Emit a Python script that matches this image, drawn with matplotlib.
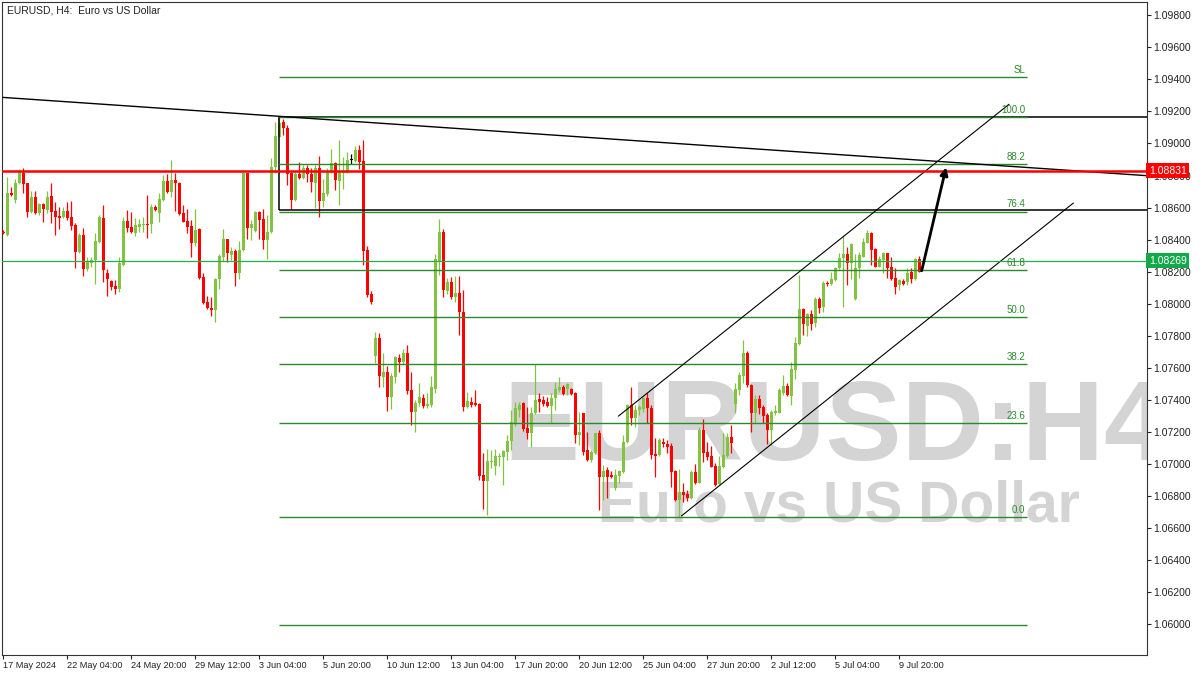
import matplotlib.pyplot as plt
import matplotlib.transforms as mtransforms
from matplotlib.patches import Rectangle
from matplotlib.ticker import FormatStrFormatter
import numpy as np

# %% data: EURUSD H4 candles (bar index 0 = 17 May 2024 12:00)
opens = [
    1.08449, 1.08429, 1.08693, 1.08647, 1.08751, 1.08818, 1.08751, 1.08572, 1.08668, 1.08564,
    1.08622, 1.08585, 1.08672, 1.08580, 1.08547, 1.08539, 1.08580, 1.08543, 1.08491, 1.08320,
    1.08429, 1.08214, 1.08252, 1.08273, 1.08387, 1.08533, 1.08189, 1.08142, 1.08112, 1.08094,
    1.08241, 1.08518, 1.08481, 1.08439, 1.08481, 1.08489, 1.08497, 1.08497, 1.08605, 1.08564,
    1.08647, 1.08766, 1.08695, 1.08772, 1.08755, 1.08564, 1.08516, 1.08485, 1.08377, 1.08464,
    1.08169, 1.08013, 1.07975, 1.07961, 1.08152, 1.08293, 1.08402, 1.08304, 1.08331, 1.08189,
    1.08335, 1.08813, 1.08470, 1.08456, 1.08572, 1.08526, 1.08397, 1.08445, 1.08855, 1.09042,
    1.09136, 1.09094, 1.08814, 1.08647, 1.08809, 1.08782, 1.08845, 1.08809, 1.08755, 1.08845,
    1.08643, 1.08684, 1.08817, 1.08876, 1.08767, 1.08814, 1.08817, 1.08897, 1.08892, 1.08959,
    1.08890, 1.08335, 1.08060, 1.07674, 1.07788, 1.07544, 1.07576, 1.07420, 1.07544, 1.07663,
    1.07638, 1.07694, 1.07461, 1.07326, 1.07378, 1.07413, 1.07362, 1.07368, 1.07470, 1.08268,
    1.08449, 1.08081, 1.08137, 1.08044, 1.08069, 1.07950, 1.07357, 1.07388, 1.07378, 1.07374,
    1.06931, 1.06895, 1.07012, 1.06987, 1.07045, 1.07045, 1.07076, 1.07145, 1.07254, 1.07337,
    1.07378, 1.07222, 1.07195, 1.07316, 1.07403, 1.07399, 1.07388, 1.07362, 1.07410, 1.07461,
    1.07478, 1.07466, 1.07468, 1.07441, 1.07181, 1.07316, 1.07087, 1.07025, 1.07070, 1.07191,
    1.06917, 1.06962, 1.06931, 1.06848, 1.06925, 1.06952, 1.07139, 1.07368, 1.07285, 1.07337,
    1.07341, 1.07410, 1.07347, 1.07062, 1.07056, 1.07139, 1.07124, 1.07112, 1.06958, 1.06775,
    1.06827, 1.06811, 1.06786, 1.06952, 1.06883, 1.07212, 1.07076, 1.07050, 1.06987, 1.06875,
    1.06983, 1.07050, 1.07170, 1.07374, 1.07461, 1.07549, 1.07694, 1.07493, 1.07320, 1.07403,
    1.07357, 1.07305, 1.07212, 1.07320, 1.07320, 1.07441, 1.07486, 1.07426, 1.07586, 1.07748,
    1.07965, 1.07861, 1.07936, 1.07878, 1.08027, 1.07977, 1.08131, 1.08123, 1.08148, 1.08221,
    1.08283, 1.08310, 1.08256, 1.08027, 1.08221, 1.08293, 1.08381, 1.08443, 1.08339, 1.08231,
    1.08273, 1.08314, 1.08231, 1.08158, 1.08117, 1.08143, 1.08137, 1.08200, 1.08152, 1.08277,
]
highs = [
    1.08460, 1.08788, 1.08730, 1.08776, 1.08838, 1.08845, 1.08755, 1.08705, 1.08705, 1.08630,
    1.08626, 1.08705, 1.08755, 1.08637, 1.08605, 1.08605, 1.08637, 1.08641, 1.08501, 1.08439,
    1.08470, 1.08293, 1.08293, 1.08439, 1.08553, 1.08616, 1.08214, 1.08148, 1.08148, 1.08293,
    1.08543, 1.08585, 1.08574, 1.08533, 1.08526, 1.08543, 1.08678, 1.08622, 1.08616, 1.08689,
    1.08803, 1.08809, 1.08897, 1.08813, 1.08761, 1.08616, 1.08589, 1.08522, 1.08589, 1.08470,
    1.08189, 1.08048, 1.08040, 1.08158, 1.08310, 1.08464, 1.08406, 1.08352, 1.08339, 1.08393,
    1.08824, 1.08818, 1.08522, 1.08580, 1.08580, 1.08589, 1.08553, 1.08907, 1.09136, 1.09165,
    1.09150, 1.09115, 1.08824, 1.08830, 1.08882, 1.08865, 1.08865, 1.08845, 1.08865, 1.08922,
    1.08778, 1.08845, 1.08963, 1.08886, 1.09021, 1.08917, 1.08948, 1.08934, 1.08984, 1.08990,
    1.09021, 1.08360, 1.08081, 1.07825, 1.07815, 1.07692, 1.07611, 1.07569, 1.07675, 1.07684,
    1.07719, 1.07742, 1.07576, 1.07399, 1.07507, 1.07436, 1.07445, 1.07549, 1.08310, 1.08528,
    1.08466, 1.08162, 1.08165, 1.08175, 1.08173, 1.08085, 1.07449, 1.07420, 1.07461, 1.07382,
    1.07066, 1.07091, 1.07087, 1.07091, 1.07066, 1.07087, 1.07181, 1.07337, 1.07388, 1.07388,
    1.07385, 1.07357, 1.07357, 1.07624, 1.07441, 1.07424, 1.07416, 1.07441, 1.07513, 1.07541,
    1.07493, 1.07503, 1.07474, 1.07451, 1.07326, 1.07320, 1.07201, 1.07087, 1.07195, 1.07212,
    1.06993, 1.06983, 1.06958, 1.06967, 1.06963, 1.07181, 1.07375, 1.07478, 1.07368, 1.07368,
    1.07420, 1.07441, 1.07368, 1.07160, 1.07160, 1.07160, 1.07149, 1.07129, 1.06962, 1.06967,
    1.06879, 1.06837, 1.06962, 1.07000, 1.07232, 1.07279, 1.07139, 1.07112, 1.07004, 1.07050,
    1.07195, 1.07191, 1.07243, 1.07503, 1.07576, 1.07773, 1.07705, 1.07499, 1.07430, 1.07430,
    1.07368, 1.07316, 1.07337, 1.07368, 1.07472, 1.07555, 1.07503, 1.07638, 1.07794, 1.08179,
    1.07973, 1.07940, 1.07961, 1.08044, 1.08040, 1.08143, 1.08142, 1.08200, 1.08231, 1.08314,
    1.08429, 1.08356, 1.08377, 1.08310, 1.08324, 1.08408, 1.08460, 1.08449, 1.08346, 1.08298,
    1.08324, 1.08318, 1.08293, 1.08221, 1.08153, 1.08152, 1.08221, 1.08221, 1.08283, 1.08298,
]
lows = [
    1.08433, 1.08422, 1.08674, 1.08626, 1.08747, 1.08693, 1.08539, 1.08564, 1.08560, 1.08553,
    1.08512, 1.08564, 1.08506, 1.08429, 1.08464, 1.08533, 1.08522, 1.08460, 1.08221, 1.08314,
    1.08173, 1.08206, 1.08231, 1.08123, 1.08381, 1.08137, 1.08048, 1.08085, 1.08060, 1.08075,
    1.08235, 1.08445, 1.08439, 1.08422, 1.08450, 1.08445, 1.08408, 1.08439, 1.08578, 1.08512,
    1.08643, 1.08689, 1.08668, 1.08580, 1.08553, 1.08508, 1.08443, 1.08293, 1.08360, 1.08156,
    1.07998, 1.07969, 1.07923, 1.07888, 1.08090, 1.08268, 1.08262, 1.08273, 1.08112, 1.08152,
    1.08331, 1.08402, 1.08397, 1.08450, 1.08402, 1.08339, 1.08277, 1.08439, 1.08813, 1.09038,
    1.09053, 1.08741, 1.08591, 1.08643, 1.08778, 1.08776, 1.08761, 1.08699, 1.08599, 1.08543,
    1.08601, 1.08672, 1.08814, 1.08709, 1.08616, 1.08716, 1.08814, 1.08872, 1.08886, 1.08839,
    1.08241, 1.08040, 1.07998, 1.07628, 1.07482, 1.07482, 1.07332, 1.07341, 1.07507, 1.07576,
    1.07624, 1.07436, 1.07243, 1.07201, 1.07362, 1.07347, 1.07347, 1.07357, 1.07441, 1.08179,
    1.08040, 1.08059, 1.08029, 1.08009, 1.07805, 1.07332, 1.07350, 1.07353, 1.07362, 1.06900,
    1.06719, 1.06681, 1.06973, 1.06931, 1.06987, 1.06869, 1.07025, 1.07087, 1.07237, 1.07295,
    1.07206, 1.07156, 1.07108, 1.07312, 1.07326, 1.07362, 1.07357, 1.07254, 1.07337, 1.07451,
    1.07430, 1.07430, 1.07430, 1.07133, 1.07118, 1.07056, 1.07018, 1.07010, 1.07062, 1.06713,
    1.06775, 1.06786, 1.06910, 1.06840, 1.06879, 1.06945, 1.07130, 1.07243, 1.07232, 1.07305,
    1.07326, 1.07257, 1.07029, 1.06917, 1.07050, 1.07108, 1.07070, 1.06858, 1.06771, 1.06669,
    1.06764, 1.06771, 1.06780, 1.06875, 1.06879, 1.07014, 1.07025, 1.06979, 1.06862, 1.06869,
    1.06973, 1.07045, 1.07066, 1.07320, 1.07430, 1.07503, 1.07482, 1.07201, 1.07254, 1.07312,
    1.07254, 1.07124, 1.07118, 1.07305, 1.07316, 1.07430, 1.07424, 1.07368, 1.07528, 1.07740,
    1.07805, 1.07798, 1.07836, 1.07853, 1.07944, 1.07950, 1.08110, 1.08117, 1.08142, 1.08215,
    1.07981, 1.08117, 1.08152, 1.08023, 1.08158, 1.08290, 1.08377, 1.08241, 1.08227, 1.08227,
    1.08190, 1.08158, 1.08148, 1.08060, 1.08085, 1.08117, 1.08117, 1.08127, 1.08148, 1.08200,
]
closes = [
    1.08439, 1.08689, 1.08678, 1.08755, 1.08824, 1.08747, 1.08574, 1.08668, 1.08564, 1.08622,
    1.08589, 1.08668, 1.08572, 1.08543, 1.08537, 1.08580, 1.08533, 1.08485, 1.08325, 1.08429,
    1.08214, 1.08262, 1.08273, 1.08393, 1.08539, 1.08210, 1.08152, 1.08106, 1.08094, 1.08252,
    1.08518, 1.08470, 1.08445, 1.08491, 1.08497, 1.08497, 1.08491, 1.08605, 1.08585, 1.08653,
    1.08766, 1.08695, 1.08772, 1.08751, 1.08560, 1.08512, 1.08481, 1.08377, 1.08460, 1.08158,
    1.08002, 1.07971, 1.07961, 1.08154, 1.08298, 1.08402, 1.08318, 1.08331, 1.08189, 1.08335,
    1.08818, 1.08474, 1.08497, 1.08572, 1.08522, 1.08397, 1.08450, 1.08855, 1.09046, 1.09130,
    1.09094, 1.08809, 1.08647, 1.08809, 1.08782, 1.08845, 1.08809, 1.08761, 1.08845, 1.08643,
    1.08689, 1.08824, 1.08876, 1.08772, 1.08824, 1.08824, 1.08897, 1.08897, 1.08959, 1.08886,
    1.08331, 1.08054, 1.08012, 1.07788, 1.07549, 1.07576, 1.07420, 1.07549, 1.07669, 1.07638,
    1.07694, 1.07457, 1.07326, 1.07382, 1.07420, 1.07362, 1.07374, 1.07478, 1.08277, 1.08449,
    1.08085, 1.08137, 1.08044, 1.08069, 1.07946, 1.07357, 1.07393, 1.07368, 1.07368, 1.06925,
    1.06895, 1.07020, 1.07018, 1.07050, 1.07050, 1.07083, 1.07145, 1.07264, 1.07347, 1.07368,
    1.07216, 1.07195, 1.07316, 1.07399, 1.07388, 1.07374, 1.07362, 1.07410, 1.07468, 1.07478,
    1.07436, 1.07497, 1.07436, 1.07181, 1.07201, 1.07076, 1.07025, 1.07076, 1.07191, 1.06917,
    1.06958, 1.06920, 1.06917, 1.06931, 1.06958, 1.07139, 1.07368, 1.07285, 1.07337, 1.07353,
    1.07410, 1.07347, 1.07056, 1.07050, 1.07149, 1.07124, 1.07108, 1.06952, 1.06775, 1.06827,
    1.06806, 1.06786, 1.06952, 1.06883, 1.07212, 1.07066, 1.07041, 1.06983, 1.06869, 1.06987,
    1.07056, 1.07170, 1.07129, 1.07466, 1.07555, 1.07694, 1.07493, 1.07320, 1.07403, 1.07347,
    1.07299, 1.07212, 1.07326, 1.07332, 1.07461, 1.07486, 1.07430, 1.07591, 1.07753, 1.07965,
    1.07873, 1.07936, 1.07873, 1.08027, 1.07971, 1.08131, 1.08121, 1.08152, 1.08221, 1.08287,
    1.08310, 1.08256, 1.08372, 1.08221, 1.08304, 1.08387, 1.08443, 1.08335, 1.08231, 1.08277,
    1.08314, 1.08221, 1.08152, 1.08106, 1.08148, 1.08123, 1.08193, 1.08152, 1.08277, 1.08200,
]

date_labels = [
    "17 May 2024", "22 May 04:00", "24 May 20:00", "29 May 12:00", "3 Jun 04:00",
    "5 Jun 20:00", "10 Jun 12:00", "13 Jun 04:00", "17 Jun 20:00", "20 Jun 12:00",
    "25 Jun 04:00", "27 Jun 20:00", "2 Jul 12:00", "5 Jul 04:00", "9 Jul 20:00",
]
label_step = 16  # bars between time labels

red_level = 1.08831
bid_price = 1.08269

# fibonacci retracement (swing low -> swing high)
fib_low, fib_high = 1.06669, 1.09164
fib_levels = [-27.0, 0.0, 23.6, 38.2, 50.0, 61.8, 76.4, 88.2, 100.0, 110.0]
fib_names = ["", "0.0", "23.6", "38.2", "50.0", "61.8", "76.4", "88.2", "100.0", "SL"]
fib_start, fib_end = 69, 255.9

# drawn objects, as (bar index, price)
trend_pts = [(-0.3, 1.09288), (286.0, 1.08799)]
chan_upper = [(153.8, 1.07299), (251.4, 1.09244)]
chan_lower = [(169.6, 1.06677), (267.5, 1.08628)]
arrow_pts = [(229.6, 1.08206), (235.7, 1.08851)]
box_start, box_top, box_bottom = 68.8, 1.09164, 1.08583

# %% figure
UP = "#82c341"
DOWN = "#ff0000"
FIB = "#2a8a2a"
SMALL = ["Liberation Sans", "DejaVu Sans"]

fig = plt.figure(figsize=(12, 6.75), dpi=100)
ax = fig.add_axes([2 / 1200, 20 / 675, 1145 / 1200, 653 / 675])

o = np.array(opens)
h = np.array(highs)
l = np.array(lows)
c = np.array(closes)
x = np.arange(len(o))

cols = np.where(c > o, UP, np.where(c < o, DOWN, "black"))
ax.vlines(x, l, h, colors=cols, lw=0.9, zorder=3)
body = np.maximum(np.abs(c - o), 0.00005)
ax.bar(x, body, bottom=np.minimum(o, c), width=0.72, color=cols, lw=0, zorder=4)

# watermark
wm = dict(transform=ax.transAxes, family=SMALL, fontweight="bold", color="#d4d4d4",
          ha="left", va="baseline", zorder=0.5, clip_on=True)
ax.text(0.4376, 0.2986, "EURUSD:H4", fontsize=82, **wm)
ax.text(0.5205, 0.2037, "Euro vs US Dollar", fontsize=41, **wm)

# fibonacci
fib_prices = [fib_low + (fib_high - fib_low) * lv / 100 for lv in fib_levels]
ax.hlines(fib_prices, fib_start, fib_end, colors=FIB, lw=1.0, zorder=5)
for p, name in zip(fib_prices, fib_names):
    ax.annotate(name, (fib_end, p), xytext=(-1, 1.5), textcoords="offset points",
                ha="right", va="bottom", fontsize=7, color=FIB, family=SMALL, zorder=6)

# rectangle, trend line, channel, arrow
ax.add_patch(Rectangle((box_start, box_bottom), 400, box_top - box_bottom,
                       fill=False, ec="black", lw=1.1, zorder=4.5))
ax.axline(trend_pts[0], trend_pts[1], color="black", lw=1.0, zorder=5)
for pts in (chan_upper, chan_lower):
    ax.plot([pts[0][0], pts[1][0]], [pts[0][1], pts[1][1]], color="black", lw=0.8, zorder=5)
ax.annotate("", xy=arrow_pts[1], xytext=arrow_pts[0],
            arrowprops=dict(arrowstyle="-|>", color="black", lw=2.0, mutation_scale=11,
                            shrinkA=0, shrinkB=0), zorder=6)

ax.axhline(bid_price, color="#1fb14a", lw=0.9, zorder=5)
ax.axhline(red_level, color="#ff0000", lw=1.8, zorder=5)

# axes
ax.set_xlim(-0.33, 285.93)
ax.set_ylim(1.05808, 1.09883)
ax.yaxis.tick_right()
ax.set_yticks(np.arange(1.060, 1.0985, 0.002))
ax.yaxis.set_major_formatter(FormatStrFormatter("%.5f"))
ax.set_xticks(np.arange(len(date_labels)) * label_step)
ax.set_xticklabels(date_labels, ha="left")
ax.tick_params(axis="both", direction="out", length=3, width=0.8, colors="#222222",
               labelsize=7.5, pad=1.5)
ax.tick_params(axis="x", labelsize=6.6)
for lab in ax.get_xticklabels() + ax.get_yticklabels():
    lab.set_family(SMALL)
for sp in ax.spines.values():
    sp.set_color("#333333")
    sp.set_linewidth(0.8)

ax.text(0.004, 0.994, "EURUSD, H4:  Euro vs US Dollar", transform=ax.transAxes,
        ha="left", va="top", fontsize=7.5, family=SMALL, color="#222222")

# price tags on the scale
tr = mtransforms.blended_transform_factory(ax.transAxes, ax.transData)
for p, fc in ((red_level, "#ff0000"), (bid_price, "#13a84a")):
    ax.text(1.0015, p, f"{p:.5f}", transform=tr, ha="left", va="center", fontsize=7.5,
            family=SMALL, color="white", clip_on=False, zorder=10,
            bbox=dict(boxstyle="square,pad=0.25", fc=fc, ec="none"))

fig.savefig("out.png", dpi=100)
